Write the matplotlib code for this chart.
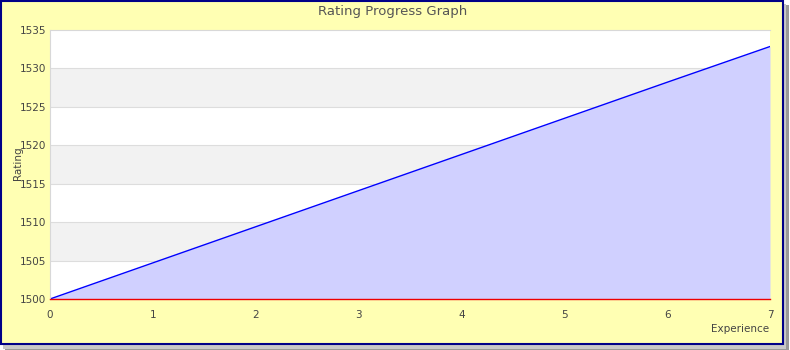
import matplotlib
matplotlib.use("Agg")
import matplotlib.pyplot as plt
from matplotlib.patches import Rectangle

experience = [0, 1, 2, 3, 4, 5, 6, 7]
rating = [1500.0, 1504.7, 1509.4, 1514.1, 1518.8, 1523.5, 1528.2, 1532.85]
x_ticks = [0, 1, 2, 3, 4, 5, 6, 7]
y_ticks = [1500, 1505, 1510, 1515, 1520, 1525, 1530, 1535]

W, H = 790, 350
fig = plt.figure(figsize=(W / 100, H / 100), dpi=100)
fig.patch.set_facecolor("white")

# shadow
fig.patches.append(Rectangle((5 / W, 0), 784 / W, 345 / H, transform=fig.transFigure,
                             facecolor="#999999", edgecolor="none", zorder=0))
fig.patches.append(Rectangle((3 / W, 1.5 / H), 783 / W, 344.5 / H, transform=fig.transFigure,
                             facecolor="#c8c8c8", edgecolor="none", zorder=0))
# main frame
fig.patches.append(Rectangle((1 / W, 6.5 / H), 782 / W, 342.5 / H, transform=fig.transFigure,
                             facecolor="#FFFFB3", edgecolor="#000088", linewidth=1.5, zorder=1))

ax = fig.add_axes([50 / W, (H - 299) / H, 720 / W, 269 / H])
ax.set_zorder(2)
ax.set_facecolor("white")
ax.set_xlim(0, 7)
ax.set_ylim(1500, 1535)

# alternating bands
for i, lo in enumerate(y_ticks[:-1]):
    if i % 2 == 1:
        ax.axhspan(lo, lo + 5, facecolor="#F2F2F2", edgecolor="none", zorder=0)
for y in y_ticks[1:-1]:
    ax.axhline(y, color="#DDDDDD", linewidth=0.8, zorder=0.5)

ax.fill_between(experience, 1500, rating, color="#D0D0FF", linewidth=0, zorder=1)
ax.plot(experience, rating, color="#0000FF", linewidth=1.0, zorder=2)

for s in ["left", "top", "right"]:
    ax.spines[s].set_color("#D8D8D8")
    ax.spines[s].set_linewidth(0.8)
ax.spines["right"].set_visible(False)
ax.spines["bottom"].set_color("#EE0000")
ax.spines["bottom"].set_linewidth(1.0)

ax.set_xticks(x_ticks)
ax.set_yticks(y_ticks)
ax.tick_params(axis="both", length=0, labelsize=7.5, labelcolor="#444444")
ax.tick_params(axis="x", pad=8)
ax.tick_params(axis="y", pad=3)

fig.text(393 / W, 1 - 11 / H, "Rating Progress Graph", ha="center", va="center",
         fontsize=9.5, color="#555555")
fig.text(740 / W, 1 - 329 / H, "Experience", ha="center", va="center",
         fontsize=7.5, color="#444444")
fig.text(18.5 / W, 1 - 163 / H, "Rating", ha="center", va="center", rotation=90,
         fontsize=7.5, color="#444444")

fig.savefig("out.png", dpi=100, facecolor=fig.get_facecolor())
